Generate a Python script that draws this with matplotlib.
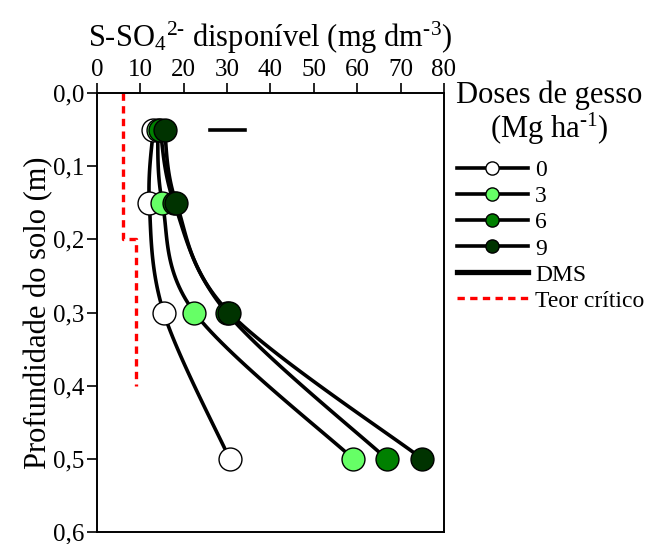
import matplotlib.pyplot as plt
from matplotlib.lines import Line2D
import numpy as np

plt.rcParams["font.family"] = ["Liberation Serif", "DejaVu Serif"]
plt.rcParams["mathtext.fontset"] = "custom"
plt.rcParams["mathtext.rm"] = "Liberation Serif"
plt.rcParams["mathtext.it"] = "Liberation Serif:italic"

# profundidade (m)
depth = [0.05, 0.15, 0.30, 0.50]

# S-SO4 disponível por dose de gesso (Mg ha-1)
doses = ["0", "3", "6", "9"]
s_0 = [13.0, 12.1, 15.4, 30.6]
s_3 = [14.0, 15.1, 22.5, 59.1]
s_6 = [14.6, 17.8, 29.9, 66.8]
s_9 = [15.6, 18.3, 30.5, 75.0]
cores = ["#FFFFFF", "#66FF66", "#008000", "#003300"]

# DMS
dms_x = [26.0, 34.2]
dms_y = [0.05, 0.05]

# teor crítico
crit_x = [6.0, 6.0, 9.0, 9.0]
crit_y = [0.0, 0.2, 0.2, 0.4]


def suavizar(x, y, n=30):
    # curva suavizada tipo Excel (Catmull-Rom)
    p = np.column_stack([x, y])
    p = np.vstack([p[0], p, p[-1]])
    out = []
    for i in range(1, len(p) - 2):
        p0, p1, p2, p3 = p[i - 1], p[i], p[i + 1], p[i + 2]
        c1 = p1 + (p2 - p0) / 6
        c2 = p2 - (p3 - p1) / 6
        t = np.linspace(0, 1, n)[:, None]
        b = ((1 - t) ** 3) * p1 + 3 * ((1 - t) ** 2) * t * c1 + 3 * (1 - t) * t ** 2 * c2 + t ** 3 * p2
        out.append(b)
    out = np.vstack(out)
    return out[:, 0], out[:, 1]


fig = plt.figure(figsize=(6.5, 5.44), dpi=100)
ax = fig.add_axes([0.149, 0.022, 0.534, 0.807])

series = [s_0, s_3, s_6, s_9]
for vals, cor in zip(series, cores):
    xs, ys = suavizar(vals, depth)
    ax.plot(xs, ys, color="black", lw=2.6, zorder=2)
for vals, cor in zip(series, cores):
    ax.plot(vals, depth, ls="none", marker="o", ms=16.5, mfc=cor, mec="black", mew=1.0, zorder=3)

ax.plot(dms_x, dms_y, color="black", lw=2.6, zorder=2)
ax.plot(crit_x, crit_y, color="#FF0000", lw=2.4, ls=(0, (2.2, 1.6)), zorder=1)

ax.set_xlim(0, 80)
ax.set_ylim(0.6, 0.0)
ax.xaxis.tick_top()
ax.xaxis.set_label_position("top")
ax.set_xticks(np.arange(0, 81, 10))
ax.set_yticks(np.arange(0, 0.61, 0.1))
ax.set_yticklabels([f"{v:.1f}".replace(".", ",") for v in np.arange(0, 0.61, 0.1)])
ax.tick_params(axis="both", labelsize=18, direction="out", length=7, width=1.2, pad=2)
for s in ax.spines.values():
    s.set_linewidth(1.4)

ax.set_xlabel("S-SO$_4$$^{2\u2010}$ disponível (mg dm$^{\u20103}$)", fontsize=22, labelpad=8)
ax.set_ylabel("Profundidade do solo (m)", fontsize=22, labelpad=0)

fig.text(0.845, 0.825, "Doses de gesso", fontsize=22, ha="center", va="center")
fig.text(0.845, 0.763, "(Mg ha$^{\u20101}$)", fontsize=22, ha="center", va="center")

handles = []
for d, cor in zip(doses, cores):
    handles.append(Line2D([], [], color="black", lw=2.6, marker="o", ms=9.5, mfc=cor, mec="black", mew=1.0))
handles.append(Line2D([], [], color="black", lw=3.8))
handles.append(Line2D([], [], color="#FF0000", lw=2.4, ls=(0, (2.2, 1.6))))
labels = doses + ["DMS", "Teor crítico"]
fig.legend(handles, labels, loc="upper left", bbox_to_anchor=(0.703, 0.706), frameon=False,
           fontsize=17, handlelength=3.0, handletextpad=0.3, labelspacing=0.19, borderaxespad=0,
           borderpad=0)

fig.savefig("out.png", dpi=100)
